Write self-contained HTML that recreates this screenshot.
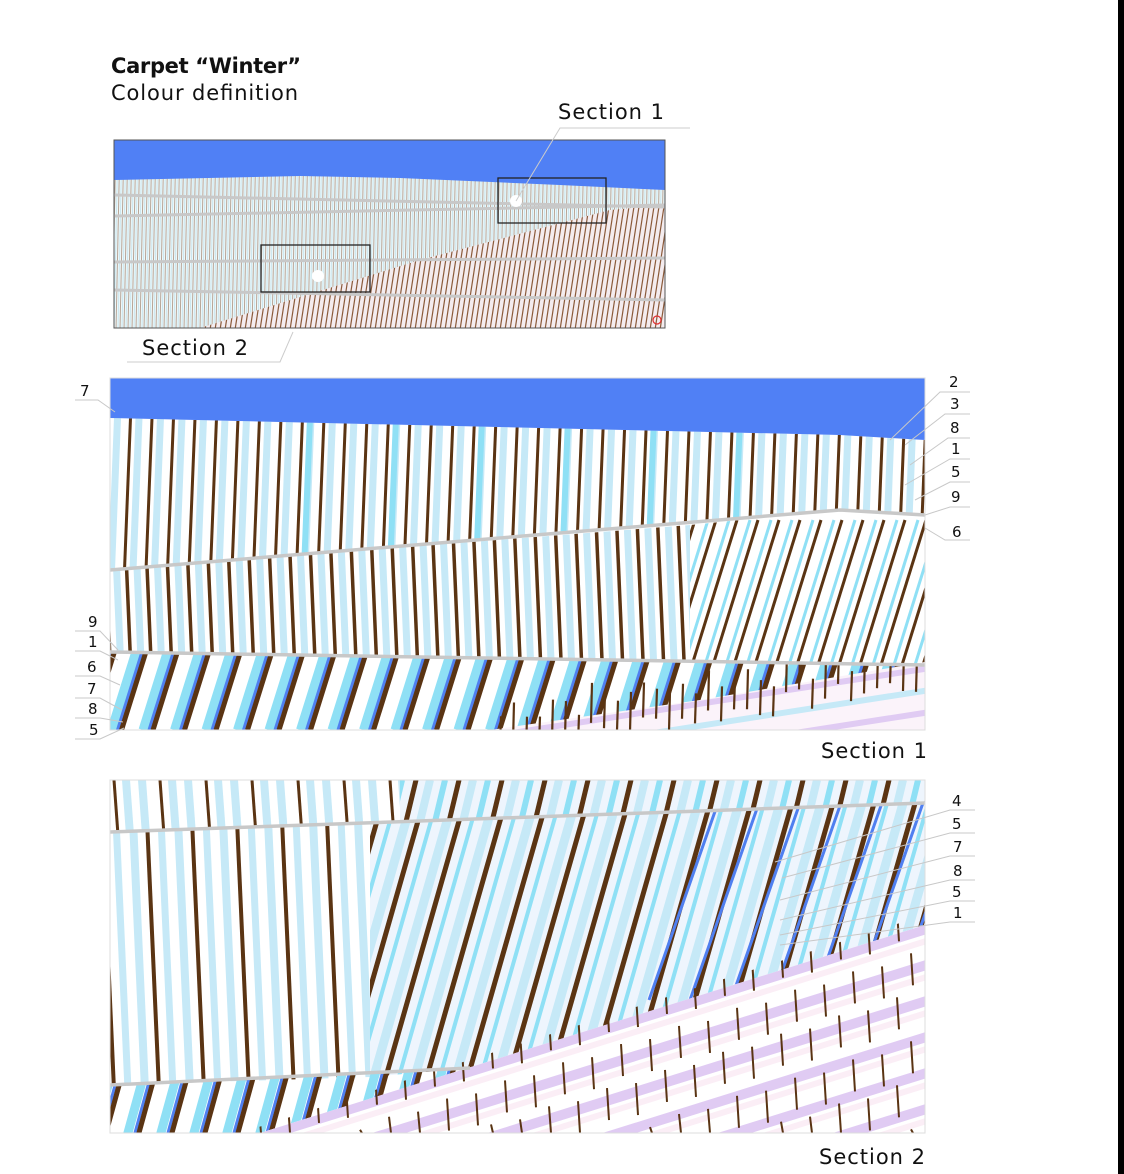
<!DOCTYPE html>
<html><head><meta charset="utf-8">
<style>
html,body{margin:0;padding:0;background:#fff;width:1124px;height:1174px;overflow:hidden;position:relative;}
svg{display:block;position:absolute;left:0;top:0;}
text{font-family:"DejaVu Sans","Liberation Sans",sans-serif;fill:#111;}
</style></head>
<body>
<svg id="s" width="1124" height="1174" viewBox="0 0 1124 1174" xmlns="http://www.w3.org/2000/svg" overflow="hidden">
<defs>
 <clipPath id="th"><rect x="114" y="140" width="551" height="188"/></clipPath>
 <clipPath id="thPink"><polygon points="200,328 420,260 610,210 665,205 665,328"/></clipPath>
 <clipPath id="a1"><polygon points="110,418 840,435 925,440 925,515 840,510 110,570"/></clipPath>
 <clipPath id="b1L"><polygon points="110,570 690,525 690,660 110,652"/></clipPath>
 <clipPath id="b1R"><polygon points="690,525 840,510 925,515 925,665 690,660"/></clipPath>
 <clipPath id="c1"><polygon points="110,652 925,665 925,730 110,730"/></clipPath>
 <clipPath id="p1"><polygon points="490,730 700,700 925,662 925,730"/></clipPath>
 <clipPath id="t2L"><polygon points="110,780 400,780 400,821 110,832"/></clipPath>
 <clipPath id="t2R"><polygon points="400,780 925,780 925,803 400,821"/></clipPath>
 <clipPath id="m2L"><polygon points="110,832 370,823 370,1077 110,1085"/></clipPath>
 <clipPath id="m2R"><polygon points="370,823 925,803 925,925 470,1068 370,1077"/></clipPath>
 <clipPath id="bl2"><polygon points="110,1085 470,1068 260,1133 110,1133"/></clipPath>
 <clipPath id="p2"><polygon points="260,1133 925,925 925,1133"/></clipPath>
 <clipPath id="p2b"><polygon points="240,1133 925,915 925,1133"/></clipPath>
</defs>
<rect x="0" y="0" width="1124" height="1174" fill="#fff"/>
<rect x="1118" y="0" width="6" height="1174" fill="#000"/>

<text x="111" y="73" font-size="21" font-weight="bold" textLength="190">Carpet “Winter”</text>
<text x="111" y="100" font-size="21" textLength="187">Colour definition</text>

<g id="thumb"></g>
<g id="sec1"></g>
<g id="sec2"></g>
<g id="labels" stroke="#c8c8c8" stroke-width="1" fill="none"></g>

<text x="558" y="119" font-size="21" textLength="106">Section 1</text>
<text x="142" y="355" font-size="21" textLength="106">Section 2</text>
<text x="821" y="758" font-size="21" textLength="106">Section 1</text>
<text x="819" y="1164" font-size="21" textLength="106">Section 2</text>

<g font-size="15">
<text x="949" y="387">2</text><text x="950" y="409">3</text><text x="950" y="433">8</text>
<text x="951" y="454">1</text><text x="951" y="477">5</text><text x="951" y="502">9</text>
<text x="952" y="537">6</text>
<text x="80" y="396">7</text>
<text x="88" y="627">9</text><text x="88" y="647">1</text><text x="87" y="672">6</text>
<text x="87" y="694">7</text><text x="88" y="714">8</text><text x="89" y="735">5</text>
<text x="952" y="806">4</text><text x="952" y="829">5</text><text x="953" y="852">7</text>
<text x="953" y="876">8</text><text x="952" y="897">5</text><text x="953" y="918">1</text>
</g>
</svg>
<script>
var NS="http://www.w3.org/2000/svg";
function el(p,t,a){var e=document.createElementNS(NS,t);for(var k in a)e.setAttribute(k,a[k]);p.appendChild(e);return e;}
function grp(p,clip){return el(p,"g",clip?{"clip-path":"url(#"+clip+")"}:{});}
var BR="#5a3413",LB="#c6e9f7",CY="#8fe0f5",BL="#4f7ff0",LV="#e0cbf3";
function stripes(g,x0,x1,yT,yB,slant,sp,pat){
  for(var x=x0;x<=x1;x+=sp){
    for(var i=0;i<pat.length;i++){var p=pat[i];
      el(g,"line",{x1:x+p[0],y1:yB,x2:x+p[0]+slant,y2:yT,stroke:p[2],"stroke-width":p[1]});}
  }
}
var s=document.getElementById("s");

var T=document.getElementById("thumb");
var tg=grp(T,"th");
el(tg,"rect",{x:114,y:140,width:551,height:188,fill:"#eef8fb"});
stripes(tg,100,680,140,330,4,4,[[0,1,"#b8a596"],[2,1,"#c9e6ee"]]);
el(tg,"polygon",{points:"114,140 665,140 665,190 560,185 400,178 300,176 114,180",fill:"#5080f5"});
var pg=grp(T,"thPink");
el(pg,"rect",{x:114,y:140,width:551,height:188,fill:"#f4ecef"});
stripes(pg,100,680,200,330,20,5,[[0,1.2,"#8a5a3a"]]);
[[114,195,665,207],[114,216,665,205],[114,262,665,258],[114,290,665,300]].forEach(function(l){
 el(T,"line",{x1:l[0],y1:l[1],x2:l[2],y2:l[3],stroke:"#c8c8c8","stroke-width":3,"clip-path":"url(#th)"});});
el(T,"rect",{x:114,y:140,width:551,height:188,fill:"none",stroke:"#555","stroke-width":1});
el(T,"rect",{x:261,y:245,width:109,height:47,fill:"none",stroke:"#222","stroke-width":1.3});
el(T,"rect",{x:498,y:178,width:108,height:45,fill:"none",stroke:"#222","stroke-width":1.3});
el(T,"circle",{cx:516,cy:201,r:6,fill:"#fff"});
el(T,"circle",{cx:318,cy:276,r:6,fill:"#fff"});
el(T,"circle",{cx:657,cy:320,r:4,fill:"none",stroke:"#e03030","stroke-width":1.2});
el(T,"polyline",{points:"690,128 560,128 516,201",fill:"none",stroke:"#ccc","stroke-width":1});
el(T,"polyline",{points:"127,362 280,362 293,332",fill:"none",stroke:"#ccc","stroke-width":1});

var S1=document.getElementById("sec1");
el(S1,"rect",{x:110,y:378,width:815,height:352,fill:"#fff"});
var a=grp(S1,"a1");
stripes(a,90,940,418,570,6,21.5,[[0,7,LB],[13,3,BR]]);
stripes(a,300,800,418,570,6,86,[[4,6,CY]]);
var b=grp(S1,"b1L");
stripes(b,100,700,520,660,-6,20.5,[[0,7,LB],[10,3.5,BR]]);
var b2=grp(S1,"b1R");
stripes(b2,600,940,520,665,45,21,[[0,3,CY],[8,3,BR]]);
var c=grp(S1,"c1");
stripes(c,80,940,650,730,25,31.5,[[0,9,CY],[6,3,BL],[10,5,BR]]);
var p=grp(S1,"p1");
el(p,"rect",{x:480,y:650,width:450,height:90,fill:"#fbf3fa"});
for(var k=-6;k<6;k++){el(p,"line",{x1:480,y1:760+k*22,x2:930,y2:690+k*22,stroke:k%2?LV:"#c6e9f7","stroke-width":6});}
var seed=7;function rnd(){seed=(seed*9301+49297)%233280;return seed/233280;}
for(var x=500;x<925;x+=13){var yy=730-(x-490)*0.15-rnd()*25;el(S1,"line",{x1:x,y1:yy+30,x2:x+1,y2:yy-10+(x%3)*5,stroke:BR,"stroke-width":2.2,"clip-path":"url(#c1)"});}
el(S1,"polygon",{points:"110,378 925,378 925,440 840,435 110,418",fill:"#5080f5"});
el(S1,"polyline",{points:"110,570 840,510 925,515",fill:"none",stroke:"#c8c8c8","stroke-width":3.5});
el(S1,"line",{x1:110,y1:652,x2:925,y2:665,stroke:"#c8c8c8","stroke-width":3.5});
el(S1,"rect",{x:110,y:378,width:815,height:352,fill:"none",stroke:"#ddd","stroke-width":1});

var S2=document.getElementById("sec2");
el(S2,"rect",{x:110,y:780,width:815,height:353,fill:"#fff"});
var t1=grp(S2,"t2L");
stripes(t1,100,410,780,835,-4,46,[[0,8,LB],[18,3,BR],[30,8,LB]]);
var t2=grp(S2,"t2R");
el(t2,"rect",{x:400,y:780,width:525,height:45,fill:"#eef5fd"});
stripes(t2,390,940,780,830,12,43,[[0,6,CY],[14,5,BR],[28,8,LB]]);
var m1=grp(S2,"m2L");
stripes(m1,100,380,820,1090,-12,45,[[0,8,LB],[14,4,BR],[28,7,LB]]);
var m2=grp(S2,"m2R");
el(m2,"rect",{x:370,y:800,width:560,height:280,fill:"#eef5fd"});
stripes(m2,250,940,800,1080,80,41,[[0,9,LB],[12,5,BR],[25,4,CY]]);
stripes(m2,640,940,800,1000,70,41,[[9,3,BL]]);
var bl=grp(S2,"bl2");
stripes(bl,60,480,1060,1140,22,33,[[0,9,CY],[7,3,BL],[11,5,BR]]);
var p2=grp(S2,"p2");
el(p2,"rect",{x:250,y:900,width:680,height:240,fill:"#fff"});
function diag(yStart,col,w){ // line with slope -0.3125 starting at x=200,y=yStart, clamped to y<=1150
  var x0=200,y0=yStart;
  if(y0>1150){x0=200+(y0-1150)/0.3125;y0=1150;}
  var x1=1000,y1=yStart-250;
  if(x0>=x1) return;
  el(p2,"line",{x1:x0,y1:y0,x2:x1,y2:y1,stroke:col,"stroke-width":w});
}
for(var k=0;k<10;k++){diag(1120+k*36,LV,10);diag(1132+k*36,"#fbeef6",6);}
for(var r=0;r<9;r++){for(var x=230;x<930;x+=29){
  var by=1133-(x-260)*0.313; var y0=by-28+r*44+((x/29)%2)*4;
  if(y0>1130) continue;
  el(S2,"line",{x1:x+(r%2)*14,y1:y0,x2:x+(r%2)*14+2,y2:Math.min(y0+32,1133),stroke:BR,"stroke-width":2,"clip-path":"url(#p2b)"});
}}
el(S2,"line",{x1:110,y1:832,x2:925,y2:803,stroke:"#c8c8c8","stroke-width":3.5});
el(S2,"line",{x1:110,y1:1085,x2:470,y2:1068,stroke:"#c8c8c8","stroke-width":3.5});
el(S2,"rect",{x:110,y:780,width:815,height:353,fill:"none",stroke:"#ddd","stroke-width":1});

var Lg=document.getElementById("labels");
function lead(pts){el(Lg,"polyline",{points:pts});}
lead("970,392 940,392 890,440");
lead("970,414 945,414 905,445");
lead("970,438 948,438 910,465");
lead("970,459 950,459 905,485");
lead("970,482 950,482 915,500");
lead("970,507 950,507 925,515");
lead("970,540 945,540 925,528");
lead("75,400 98,400 115,412");
lead("75,631 100,631 118,650");
lead("75,651 100,651 118,660");
lead("75,676 100,676 120,685");
lead("75,698 100,698 122,710");
lead("75,718 100,718 123,722");
lead("75,739 100,739 124,728");
lead("975,810 950,810 775,862");
lead("975,833 950,833 782,878");
lead("975,856 950,856 780,900");
lead("975,880 950,880 780,920");
lead("975,901 950,901 780,935");
lead("975,922 950,922 780,945");
</script>
</body></html>
